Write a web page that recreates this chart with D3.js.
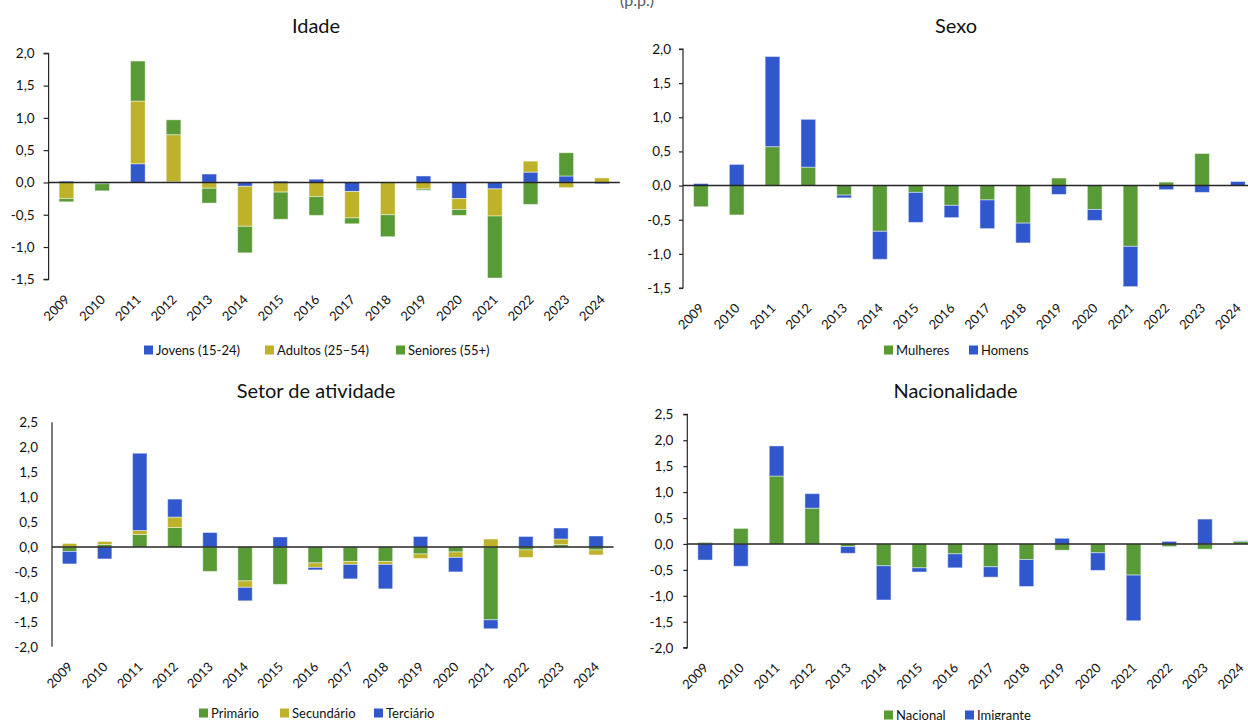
<!DOCTYPE html>
<html><head><meta charset="utf-8">
<script src="https://cdn.jsdelivr.net/npm/d3@7/dist/d3.min.js"></script>
<style>
html,body{margin:0;padding:0;background:#fff;overflow:hidden;}
svg{display:block;font-family:Lato,"Open Sans",sans-serif;}
</style></head>
<body>
<svg id="c" width="1248" height="720"></svg>
<script>
const years = ["2009","2010","2011","2012","2013","2014","2015","2016","2017","2018","2019","2020","2021","2022","2023","2024"];

// Idade
const jovens   = [0.02,-0.02,0.29,0.01,0.13,-0.06,0.02,0.05,-0.14,0.00,0.10,-0.25,-0.10,0.16,0.10,-0.02];
const adultos  = [-0.25,0.01,0.97,0.73,-0.09,-0.62,-0.15,-0.22,-0.41,-0.50,-0.10,-0.17,-0.42,0.17,-0.08,0.07];
const seniores = [-0.05,-0.11,0.62,0.23,-0.23,-0.41,-0.42,-0.29,-0.09,-0.34,-0.02,-0.09,-0.96,-0.34,0.36,0.00];

// Sexo
const mulheres = [-0.31,-0.43,0.57,0.27,-0.14,-0.67,-0.10,-0.29,-0.21,-0.55,0.11,-0.35,-0.89,0.05,0.47,0.00];
const homens   = [0.03,0.31,1.32,0.70,-0.04,-0.41,-0.44,-0.18,-0.42,-0.29,-0.13,-0.16,-0.59,-0.06,-0.10,0.06];

// Setor de atividade
const primario   = [-0.09,0.05,0.25,0.39,-0.49,-0.68,-0.75,-0.32,-0.29,-0.29,-0.14,-0.10,-1.46,-0.06,0.05,-0.06];
const secundario = [0.07,0.06,0.08,0.21,0.00,-0.13,0.00,-0.09,-0.06,-0.06,-0.09,-0.11,0.16,-0.15,0.11,-0.10];
const terciario  = [-0.25,-0.24,1.55,0.36,0.29,-0.27,0.20,-0.05,-0.29,-0.49,0.21,-0.29,-0.18,0.21,0.22,0.22];

// Nacionalidade
const nacional  = [0.03,0.30,1.31,0.69,-0.05,-0.42,-0.46,-0.19,-0.44,-0.30,-0.12,-0.17,-0.60,-0.05,-0.10,0.05];
const imigrante = [-0.31,-0.43,0.58,0.28,-0.13,-0.66,-0.08,-0.27,-0.20,-0.52,0.11,-0.34,-0.88,0.05,0.48,0.01];

const ticksA = [-1.5,-1.0,-0.5,0.0,0.5,1.0,1.5,2.0];
const ticksB = [-2.0,-1.5,-1.0,-0.5,0.0,0.5,1.0,1.5,2.0,2.5];

const BLUE = "#3157CD", GREEN = "#589A36", OLIVE = "#BDB22A";

const svg = d3.select("#c");
const fmt = v => d3.format(".1f")(v).replace(".", ",").replace("−","-");

svg.append("text").attr("x", 637).attr("y", 5.5).attr("text-anchor","middle")
  .attr("font-size", 16).attr("fill", "#595959").text("(p.p.)");

function panel(cfg){
  const g = svg.append("g");
  const x = d3.scaleBand().domain(years)
    .range([cfg.x0, cfg.x0 + 16*cfg.step]).paddingInner(0.59).paddingOuter(0.295);
  const y = d3.scaleLinear().domain(cfg.domain).range(cfg.yrange);

  // title
  g.append("text").attr("x", cfg.titleX).attr("y", cfg.titleY).attr("text-anchor","middle")
    .attr("font-size", 20).attr("fill", "#111").text(cfg.title);

  // bars
  const rows = years.map((yr,i) => {
    const o = {year: yr};
    cfg.series.forEach(s => o[s.name] = s.values[i]);
    return o;
  });
  const stack = d3.stack().keys(cfg.series.map(s=>s.name)).offset(d3.stackOffsetDiverging);
  const layers = stack(rows);
  layers.forEach((layer, li) => {
    g.append("g").selectAll("rect").data(layer).join("rect")
      .attr("x", d => x(d.data.year))
      .attr("width", x.bandwidth())
      .attr("y", d => y(Math.max(d[0], d[1])))
      .attr("height", d => Math.abs(y(d[0]) - y(d[1])))
      .attr("fill", cfg.series[li].color)
      .attr("stroke", "rgba(255,255,255,0.45)")
      .attr("stroke-width", 1);
  });

  // y axis
  const ax = d3.axisLeft(y).tickValues(cfg.ticks).tickFormat(fmt)
    .tickSize(cfg.tickLen).tickPadding(cfg.tickPad);
  const ag = g.append("g").attr("transform", `translate(${cfg.x0},0)`).call(ax);
  ag.select(".domain").attr("stroke", "#262626").attr("stroke-width", 1.2)
    .attr("d", `M${-cfg.tickLen},${cfg.yrange[1]}H0V${cfg.yrange[0]}H${-cfg.tickLen}`);
  if (cfg.tickLen === 0) ag.select(".domain").attr("d", `M0,${cfg.yrange[1]}V${cfg.yrange[0]}`);
  ag.selectAll(".tick line").attr("stroke", "#262626").attr("stroke-width", 1.2);
  ag.selectAll(".tick text").attr("font-size", 13.5).attr("fill", "#111")
    .attr("font-family", "Lato, sans-serif");

  // zero line
  g.append("line").attr("x1", cfg.x0).attr("x2", cfg.x0 + 16*cfg.step)
    .attr("y1", y(0)).attr("y2", y(0)).attr("stroke", "#262626").attr("stroke-width", 1.5);

  // x labels
  const xb = g.append("g").attr("transform", `translate(0,${cfg.yrange[0]})`)
    .call(d3.axisBottom(x).tickSize(0).tickPadding(0));
  xb.select(".domain").remove();
  xb.selectAll(".tick text")
    .attr("font-size", 13).attr("fill", "#111").attr("font-family", "Lato, sans-serif")
    .attr("text-anchor", "end").attr("dy", 0).attr("y", 0)
    .attr("transform", "translate(4,21) rotate(-45)");

  // legend
  const lg = g.append("g").attr("transform", `translate(0,${cfg.legY})`);
  cfg.legend.forEach(item => {
    lg.append("rect").attr("x", item.x).attr("y", -4.5).attr("width", 9).attr("height", 9)
      .attr("fill", item.color);
    lg.append("text").attr("x", item.x + 12).attr("y", 0).attr("dy", "0.35em")
      .attr("font-size", 13).attr("fill", "#111").text(item.label);
  });
}

panel({
  title: "Idade", titleX: 316, titleY: 33,
  x0: 48.6, step: 35.7, domain: [-1.5, 2.0], yrange: [279.3, 53.3],
  ticks: ticksA, tickLen: 5, tickPad: 9,
  series: [
    {name: "Jovens (15-24)", values: jovens, color: BLUE},
    {name: "Adultos (25–54)", values: adultos, color: OLIVE},
    {name: "Seniores (55+)", values: seniores, color: GREEN}
  ],
  legY: 350,
  legend: [
    {x: 144, color: BLUE, label: "Jovens (15-24)"},
    {x: 265, color: OLIVE, label: "Adultos (25–54)"},
    {x: 396, color: GREEN, label: "Seniores (55+)"}
  ]
});

panel({
  title: "Sexo", titleX: 956, titleY: 33,
  x0: 683, step: 35.8, domain: [-1.5, 2.0], yrange: [288, 49],
  ticks: ticksA, tickLen: 4, tickPad: 8,
  series: [
    {name: "Mulheres", values: mulheres, color: GREEN},
    {name: "Homens", values: homens, color: BLUE}
  ],
  legY: 350,
  legend: [
    {x: 884, color: GREEN, label: "Mulheres"},
    {x: 969, color: BLUE, label: "Homens"}
  ]
});

panel({
  title: "Setor de atividade", titleX: 316, titleY: 398,
  x0: 52, step: 35.1, domain: [-2.0, 2.5], yrange: [646.7, 422.3],
  ticks: ticksB, tickLen: 0, tickPad: 14,
  series: [
    {name: "Primário", values: primario, color: GREEN},
    {name: "Secundário", values: secundario, color: OLIVE},
    {name: "Terciário", values: terciario, color: BLUE}
  ],
  legY: 713,
  legend: [
    {x: 199, color: GREEN, label: "Primário"},
    {x: 280, color: OLIVE, label: "Secundário"},
    {x: 374, color: BLUE, label: "Terciário"}
  ]
});

panel({
  title: "Nacionalidade", titleX: 955.5, titleY: 398,
  x0: 687.3, step: 35.7, domain: [-2.0, 2.5], yrange: [647.7, 414.3],
  ticks: ticksB, tickLen: 4, tickPad: 10,
  series: [
    {name: "Nacional", values: nacional, color: GREEN},
    {name: "Imigrante", values: imigrante, color: BLUE}
  ],
  legY: 715,
  legend: [
    {x: 884, color: GREEN, label: "Nacional"},
    {x: 965, color: BLUE, label: "Imigrante"}
  ]
});
</script>
</body></html>
